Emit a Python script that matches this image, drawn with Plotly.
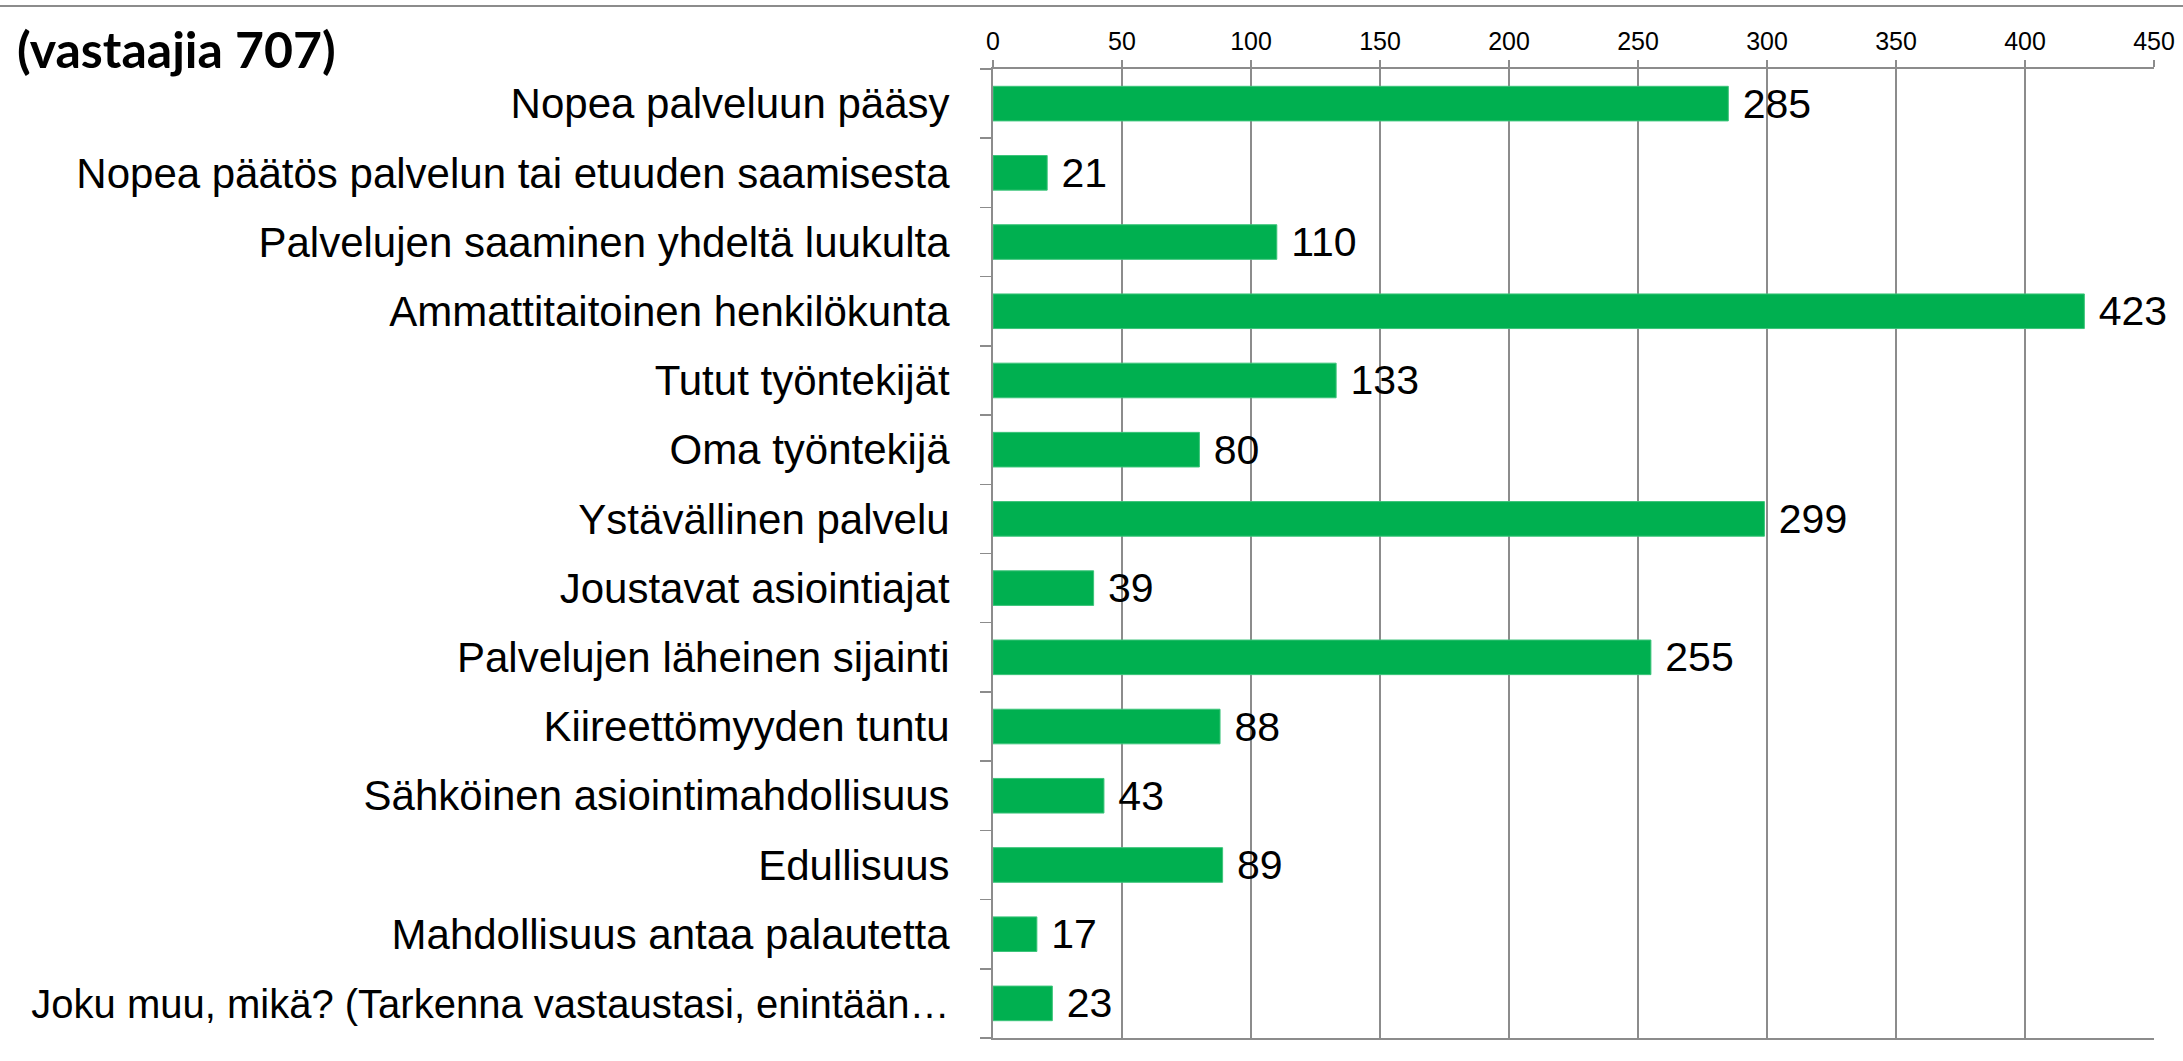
import plotly.graph_objects as go

categories = [
    "Nopea palveluun pääsy",
    "Nopea päätös palvelun tai etuuden saamisesta",
    "Palvelujen saaminen yhdeltä luukulta",
    "Ammattitaitoinen henkilökunta",
    "Tutut työntekijät",
    "Oma työntekijä",
    "Ystävällinen palvelu",
    "Joustavat asiointiajat",
    "Palvelujen läheinen sijainti",
    "Kiireettömyyden tuntu",
    "Sähköinen asiointimahdollisuus",
    "Edullisuus",
    "Mahdollisuus antaa palautetta",
    "Joku muu, mikä? (Tarkenna vastaustasi, enintään…",
]
values = [285, 21, 110, 423, 133, 80, 299, 39, 255, 88, 43, 89, 17, 23]
x_ticks = [0, 50, 100, 150, 200, 250, 300, 350, 400, 450]
title_text = "(vastaajia 707)"

W, H = 2183, 1061
L, R, T, B = 993, 29, 69, 23
pw = W - L - R
ph = H - T - B

grid = "#8c8c8c"

# the longest label is drawn a little smaller so it fits on the page
tick_text = [
    c if len(c) < 46 else '<span style="font-size:40px">' + c + "</span>"
    for c in categories
]

fig = go.Figure()
fig.add_trace(go.Bar(
    x=values,
    y=categories,
    orientation="h",
    marker=dict(color="#00B050", line=dict(color="#3cc47a", width=1)),
    text=values,
    texttemplate="\u00a0%{x}",
    textposition="outside",
    textfont=dict(family="Liberation Sans, Arial", size=41, color="#000000"),
    constraintext="none",
    cliponaxis=False,
    hoverinfo="skip",
))

fig.update_layout(
    width=W,
    height=H,
    margin=dict(l=L, r=R, t=T, b=B, pad=0, autoexpand=False),
    paper_bgcolor="white",
    plot_bgcolor="white",
    showlegend=False,
    bargap=0.5,
    font=dict(family="Liberation Sans, Arial", color="#000000"),
    title=dict(
        text=title_text,
        font=dict(family="Lato", size=50, color="#000000", weight="bold"),
        xref="container", x=17 / W, xanchor="left",
        yref="container", y=1 - 50 / H, yanchor="middle",
    ),
    xaxis=dict(
        side="top",
        range=[0, 450],
        tickvals=x_ticks,
        ticktext=[str(v) for v in x_ticks],
        showgrid=True,
        gridcolor=grid,
        gridwidth=1.5,
        showline=True,
        linecolor=grid,
        linewidth=2,
        mirror=True,
        ticks="outside",
        ticklen=7,
        tickcolor=grid,
        tickwidth=1.5,
        tickfont=dict(family="Liberation Sans, Arial", size=25, color="#000000"),
        zeroline=False,
        automargin=False,
        fixedrange=True,
    ),
    yaxis=dict(
        type="category",
        autorange="reversed",
        categoryorder="array",
        categoryarray=categories,
        tickmode="array",
        tickvals=categories,
        ticktext=tick_text,
        showline=True,
        linecolor=grid,
        linewidth=2,
        ticks="outside",
        tickson="boundaries",
        ticklen=11,
        tickcolor=grid,
        tickwidth=1.5,
        ticklabelstandoff=33,
        tickfont=dict(family="Liberation Sans, Arial", size=42, color="#000000"),
        showgrid=False,
        automargin=False,
        fixedrange=True,
    ),
    shapes=[dict(
        type="line",
        xref="paper", yref="paper",
        x0=-L / pw, x1=(W - L) / pw,
        y0=(H - B - 6) / ph, y1=(H - B - 6) / ph,
        line=dict(color="#8c8c8c", width=2),
    )],
)

fig.write_html(
    "out.html",
    config={"displayModeBar": False, "staticPlot": True},
    post_script="document.body.style.margin='0';document.body.style.overflow='hidden';",
)
